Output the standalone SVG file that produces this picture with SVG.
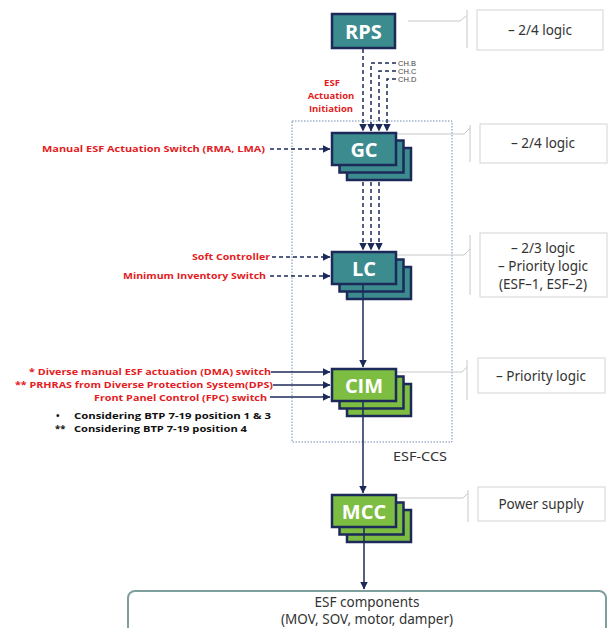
<svg xmlns="http://www.w3.org/2000/svg" width="608" height="628" viewBox="0 0 608 628">
<defs>
<marker id="ah" markerUnits="userSpaceOnUse" markerWidth="8" markerHeight="8" refX="7.5" refY="4" orient="auto"><path d="M0,0 L8,4 L0,8 z" fill="#1c2a5a"/></marker>
<style>
.teal{fill:#3b8b8f;stroke:#1c2a5a;stroke-width:2.5}
.green{fill:#7dbd42;stroke:#1c2a5a;stroke-width:2.5}
.bl{font-family:"Open Sans","Noto Sans",sans-serif;font-weight:bold;font-size:20px;fill:#fff;text-anchor:middle}
.note{fill:#fff;stroke:#d4d4d4;stroke-width:1}
.nt{font-family:"Noto Sans","Open Sans",sans-serif;font-size:13.5px;fill:#333;text-anchor:middle}
.brk{fill:none;stroke:#c8c8c8;stroke-width:1}
.red{font-family:"Open Sans","Noto Sans",sans-serif;font-weight:bold;font-size:9.5px;fill:#e31b23}
.blk{font-family:"Open Sans","Noto Sans",sans-serif;font-weight:bold;font-size:9.5px;fill:#111}
.dash{fill:none;stroke:#1c2a5a;stroke-width:1.5;stroke-dasharray:4,3}
.sol{fill:none;stroke:#1c2a5a;stroke-width:1.5}
.ch{font-family:"Liberation Sans",sans-serif;font-size:7.5px;fill:#444}
</style>
</defs>

<g id="esf-ccs">
<rect x="292" y="121" width="160" height="321" fill="none" stroke="#4a6d9c" stroke-width="0.8" stroke-dasharray="1.5,1.5"/>
<text x="420" y="461" font-family="Noto Sans, sans-serif" font-size="13" fill="#333" text-anchor="middle" textLength="54" lengthAdjust="spacingAndGlyphs">ESF-CCS</text>
</g>

<g id="notes">
<g id="note-rps"><path class="brk" d="M408,21 H460 L466,16 M467,10 V48"/><rect class="note" x="477" y="10" width="126" height="40"/><text class="nt" x="540" y="35">– 2/4 logic</text></g>
<g id="note-gc"><path class="brk" d="M397,134 H464 L470,128 M470,125 V162"/><rect class="note" x="480" y="124" width="127" height="39"/><text class="nt" x="543" y="148">– 2/4 logic</text></g>
<g id="note-lc"><path class="brk" d="M397,255 H464 L470,249 M470,235 V295"/><rect class="note" x="480" y="233" width="127" height="64"/><text class="nt" x="543" y="253">– 2/3 logic</text><text class="nt" x="543" y="271">– Priority logic</text><text class="nt" x="543" y="289">(ESF–1, ESF–2)</text></g>
<g id="note-cim"><path class="brk" d="M397,372 H462 L467,367 M467,360 V400"/><rect class="note" x="478" y="358" width="127" height="35"/><text class="nt" x="541" y="381">– Priority logic</text></g>
<g id="note-mcc"><path class="brk" d="M397,498 H463 L468,493 M468,490 V522"/><rect class="note" x="478" y="487" width="127" height="34"/><text class="nt" x="541" y="509">Power supply</text></g>
</g>

<g id="rps"><rect class="teal" x="332" y="14" width="63" height="34"/><text class="bl" x="363.5" y="38.5">RPS</text></g>

<g id="gc">
<rect class="teal" x="347" y="148" width="64" height="32"/><rect class="teal" x="339.5" y="140.5" width="64" height="32"/><rect class="teal" x="332" y="133" width="64" height="32"/>
<text class="bl" x="364" y="156.5">GC</text></g>

<g id="lc">
<rect class="teal" x="347" y="267" width="64" height="32"/><rect class="teal" x="339.5" y="259.5" width="64" height="32"/><rect class="teal" x="332" y="252" width="64" height="32"/>
<text class="bl" x="364" y="275.5">LC</text></g>

<g id="cim">
<rect class="green" x="347" y="384" width="64" height="32"/><rect class="green" x="339.5" y="376.5" width="64" height="32"/><rect class="green" x="332" y="369" width="64" height="32"/>
<text class="bl" x="364" y="392.5">CIM</text></g>

<g id="mcc">
<rect class="green" x="347" y="510" width="64" height="32"/><rect class="green" x="339.5" y="502.5" width="64" height="32"/><rect class="green" x="332" y="495" width="64" height="32"/>
<text class="bl" x="364" y="518.5">MCC</text></g>

<g id="esf-components">
<rect x="128" y="591" width="478" height="50" rx="7" fill="#fff" stroke="#7f9e9e" stroke-width="2"/>
<text class="nt" x="367" y="607" font-size="12.5">ESF components</text>
<text class="nt" x="367" y="624" font-size="12.5">(MOV, SOV, motor, damper)</text>
</g>

<g id="connectors">
<path class="dash" d="M363,49 V131" marker-end="url(#ah)"/>
<path class="dash" d="M396,63 H371 V131" marker-end="url(#ah)"/>
<path class="dash" d="M396,71 H379 V131" marker-end="url(#ah)"/>
<path class="dash" d="M396,79 H387 V131" marker-end="url(#ah)"/>
<path class="dash" d="M363,182 V250" marker-end="url(#ah)"/>
<path class="dash" d="M371,182 V250" marker-end="url(#ah)"/>
<path class="dash" d="M379,182 V250" marker-end="url(#ah)"/>
<path class="dash" d="M270,149 H330" marker-end="url(#ah)"/>
<path class="dash" d="M272,257 H330" marker-end="url(#ah)"/>
<path class="dash" d="M270,276 H330" marker-end="url(#ah)"/>
<path class="sol" d="M271,372 H330" marker-end="url(#ah)"/>
<path class="sol" d="M273,385 H330" marker-end="url(#ah)"/>
<path class="sol" d="M270,397 H330" marker-end="url(#ah)"/>
<path class="sol" d="M363,285 V367" marker-end="url(#ah)"/>
<path class="sol" d="M363,402 V493" marker-end="url(#ah)"/>
<path class="sol" d="M364,528 V589" marker-end="url(#ah)"/>
</g>

<g id="labels">
<text class="ch" x="398" y="66">CH.B</text>
<text class="ch" x="398" y="74">CH.C</text>
<text class="ch" x="398" y="82">CH.D</text>
<text class="red" x="332" y="86" text-anchor="middle" font-size="10">ESF</text>
<text class="red" x="331" y="99" text-anchor="middle" font-size="10">Actuation</text>
<text class="red" x="331" y="112" text-anchor="middle" font-size="10">Initiation</text>
<text class="red" x="265" y="152" text-anchor="end" textLength="223" lengthAdjust="spacingAndGlyphs">Manual ESF Actuation Switch (RMA, LMA)</text>
<text class="red" x="270" y="260" text-anchor="end" textLength="78" lengthAdjust="spacingAndGlyphs">Soft Controller</text>
<text class="red" x="266" y="279" text-anchor="end" textLength="143" lengthAdjust="spacingAndGlyphs">Minimum Inventory Switch</text>
<text class="red" x="271" y="375" text-anchor="end" textLength="242" lengthAdjust="spacingAndGlyphs">* Diverse manual ESF actuation (DMA) switch</text>
<text class="red" x="273" y="388" text-anchor="end" textLength="258" lengthAdjust="spacingAndGlyphs">** PRHRAS from Diverse Protection System(DPS)</text>
<text class="red" x="267" y="401" text-anchor="end" textLength="173" lengthAdjust="spacingAndGlyphs">Front Panel Control (FPC) switch</text>
<text class="blk" x="56" y="419">•</text>
<text class="blk" x="74" y="419" textLength="197" lengthAdjust="spacingAndGlyphs">Considering BTP 7-19 position 1 &amp; 3</text>
<text class="blk" x="55" y="432">**</text>
<text class="blk" x="74" y="432" textLength="173" lengthAdjust="spacingAndGlyphs">Considering BTP 7-19 position 4</text>
</g>
</svg>
